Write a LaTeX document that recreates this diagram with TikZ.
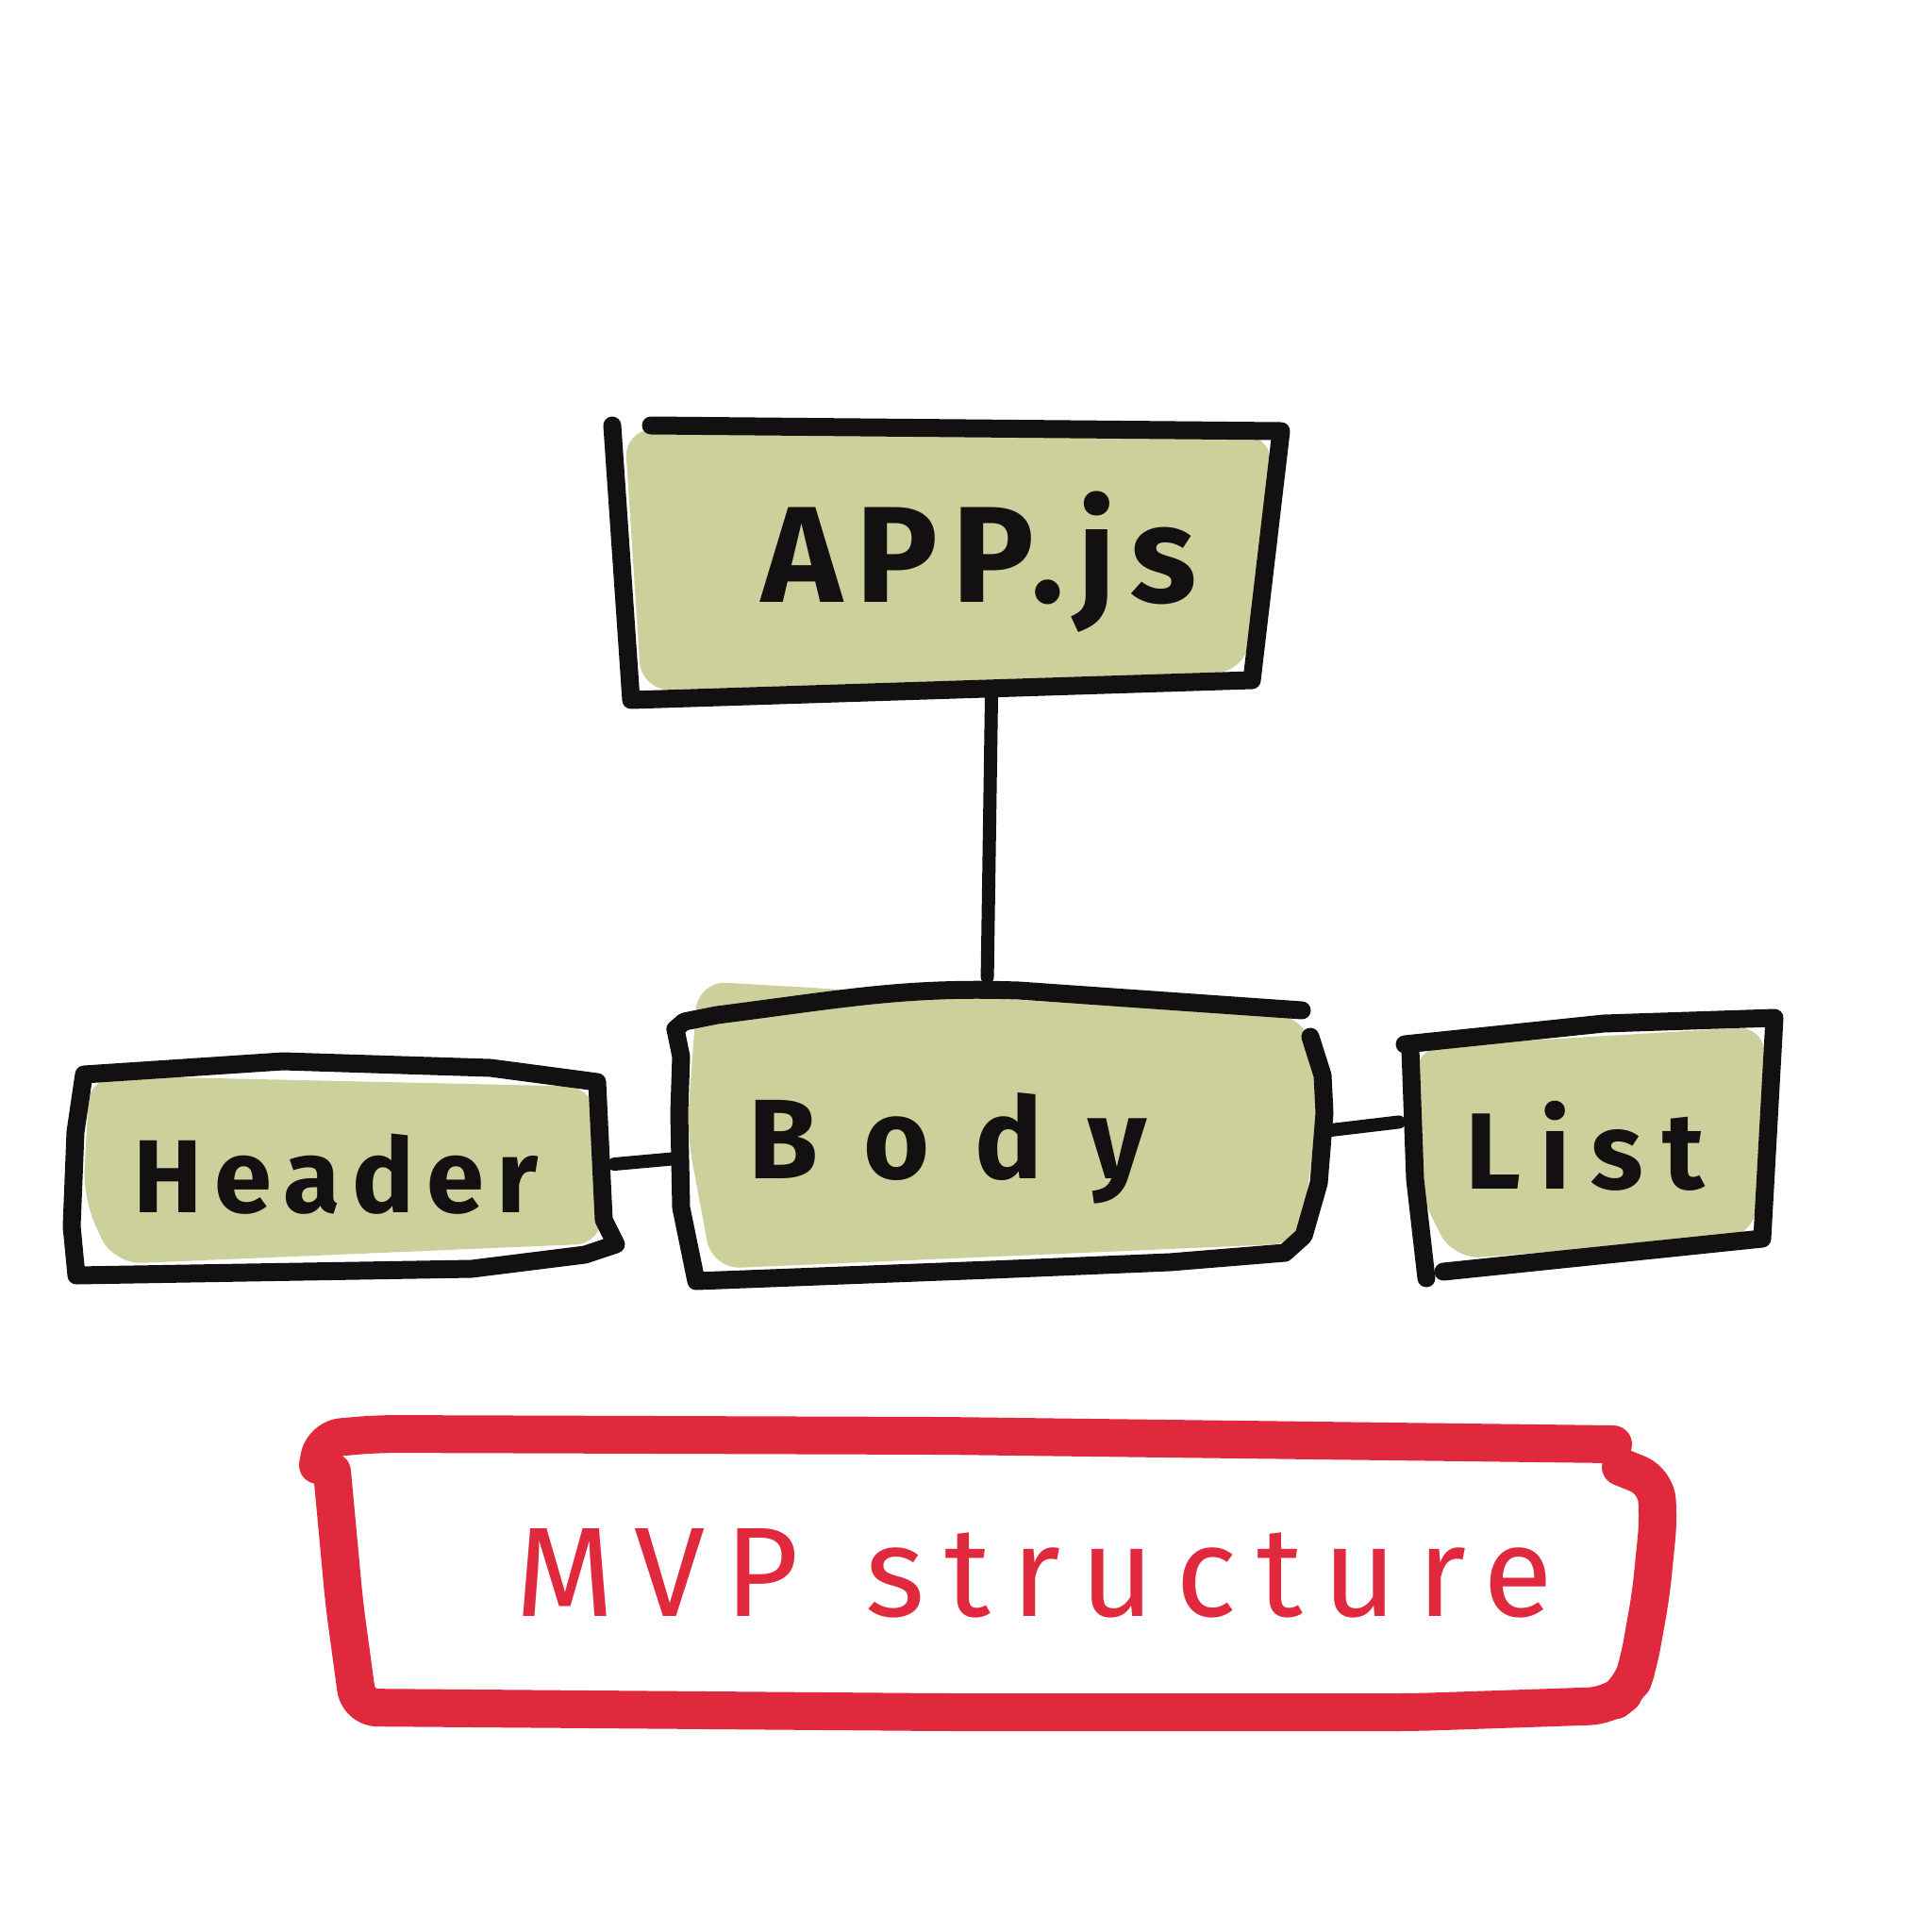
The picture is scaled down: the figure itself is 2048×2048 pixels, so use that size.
\documentclass[tikz,border=0pt]{standalone}
\usepackage{fontspec}
\setmainfont{Fira Sans}
\usetikzlibrary{calc}
\definecolor{ink}{HTML}{121010}
\definecolor{sage}{HTML}{CCD19C}
\definecolor{marker}{HTML}{E0293D}
\tikzset{
  outline/.style={draw=ink,line width=19pt,line cap=round,line join=round},
  redline/.style={draw=marker,line width=40pt,line cap=round,line join=round,rounded corners=20pt},
  greenfill/.style={fill=sage,rounded corners=30pt},
  boxnode/.style={draw=none,inner sep=0pt,text=ink,font=\bfseries},
  link/.style={draw=ink,line width=14pt,line cap=round}
}
\begin{document}
\begin{tikzpicture}[x=1pt,y=-1pt]
\useasboundingbox (0,0) rectangle (2048,2048);
% green fills
\fill[greenfill] (662,455) -- (1350,462) -- (1320,712) -- (680,732) -- cycle;
\fill[greenfill] (740,1040) -- (1385,1078) -- (1398,1175) -- (1378,1318) -- (755,1345) -- (728,1200) -- cycle;
\fill[greenfill] (95,1140) -- (630,1152) -- (640,1318) -- (120,1340) -- (88,1270) -- cycle;
\fill[greenfill] (1500,1110) -- (1872,1088) -- (1860,1310) -- (1540,1335) -- (1503,1260) -- cycle;
% outlines
\draw[outline] (690,451) -- (1358,457) -- (1327,721) -- (669,742) -- (649,451);
\draw[outline] (716,1091) -- (725,1083) -- (760,1076) .. controls (900,1058) and (960,1046) .. (1080,1050) -- (1380,1071);
\draw[outline] (1389,1099) -- (1402,1140) -- (1404,1180) -- (1398,1254) -- (1382,1310) -- (1362,1328) -- (1240,1338) -- (1050,1346) -- (738,1358) -- (722,1280) -- (720,1180) -- (722,1120) -- (716,1091);
\draw[outline] (89,1139) -- (300,1125) -- (520,1132) -- (633,1147) -- (640,1293) -- (653,1319) -- (620,1330) -- (500,1345) -- (81,1352) -- (76,1300) -- (80,1200) -- (89,1139);
\draw[outline] (1489,1107) -- (1700,1085) -- (1881,1079) -- (1868,1313) -- (1530,1348);
\draw[outline] (1495,1112) -- (1500,1250) -- (1512,1355);
\draw[redline] (337,1553) -- (342,1525) -- (400,1520) -- (1000,1522) -- (1710,1531);
\draw[redline] (1718,1555) -- (1755,1570) -- (1758,1610) -- (1750,1690) -- (1737,1763) -- (1728,1790) -- (1705,1808) -- (1500,1815) -- (1000,1815) -- (380,1810) -- (365,1700) -- (352,1560);
% nodes
\node[boxnode,minimum width=690pt,minimum height=285pt,font=\bfseries\fontsize{145}{160}\selectfont] (app) at (1003,596) {\addfontfeature{LetterSpace=10}\hspace*{70pt}APP.js};
\node[boxnode,minimum width=684pt,minimum height=282pt,font=\bfseries\fontsize{120}{130}\selectfont] (body) at (1060,1217) {\addfontfeature{LetterSpace=40}\hspace*{-110pt}Body};
\node[boxnode,minimum width=570pt,minimum height=213pt,font=\bfseries\fontsize{110}{120}\selectfont] (header) at (366,1245) {\addfontfeature{LetterSpace=12}\hspace*{-20pt}Header};
\node[boxnode,minimum width=380pt,minimum height=250pt,font=\bfseries\fontsize{115}{125}\selectfont] (list) at (1685,1215) {\addfontfeature{LetterSpace=18}\hspace*{-10pt}List};
\node[draw=none,inner sep=0pt,minimum width=1410pt,minimum height=285pt,text=marker,font=\fontsize{135}{145}\selectfont] (mvp) at (1046,1668) {\addfontfeature{LetterSpace=16}\hspace*{100pt}MVP\hspace{70pt}structure};
% connectors
\draw[link,shorten >=40pt] ([xshift=48pt]app.south) -- ([xshift=-14pt]body.north);
\draw[link] ([yshift=11pt]header.east) -- ([yshift=-11pt]body.west);
\draw[link,shorten <=5pt,shorten >=12pt] ([yshift=18pt]body.east) -- ([yshift=27pt]list.west);
\end{tikzpicture}
\end{document}
